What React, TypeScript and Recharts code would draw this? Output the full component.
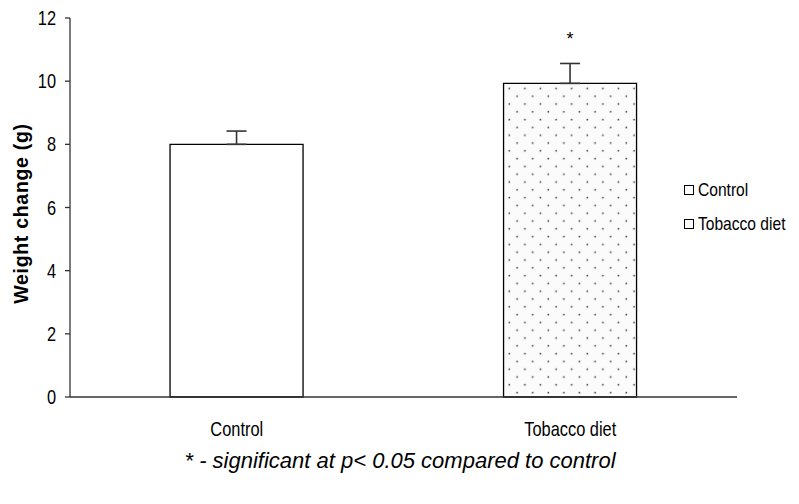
import { Bar, BarChart, Cell, ErrorBar, Label, LabelList, XAxis, YAxis } from "recharts";

// values
const groups = ["Control", "Tobacco diet"];
const weightChange = [8.0, 9.93];
const upperError = [0.42, 0.63];
const significance = ["", "*"];
const yTicks = [0, 2, 4, 6, 8, 10, 12];
const edgeTicks = [0, 1, 2];
const fills = ["#ffffff", "url(#dots)"];

const data = groups.map((name, i) => ({
  name,
  value: weightChange[i],
  err: [0, upperError[i]],
  sig: significance[i],
}));

const sans = "'Liberation Sans', Arial, sans-serif";
const axisColor = "#333333";
// no Arial Narrow here, so squeeze Liberation Sans horizontally
const squeeze = 0.82;

const XTick = ({ x, y, payload }: any) => (
  <text
    transform={`translate(${x},${y}) scale(${squeeze},1)`}
    textAnchor="middle"
    dy="0.71em"
    fontFamily={sans}
    fontSize={20}
    fill="#000"
  >
    {payload.value}
  </text>
);

const YTick = ({ x, y, payload }: any) => (
  <text
    transform={`translate(${x},${y}) scale(${squeeze},1)`}
    textAnchor="end"
    dy="0.355em"
    fontFamily={sans}
    fontSize={20}
    fill="#000"
  >
    {payload.value}
  </text>
);

export default function App() {
  return (
    <div style={{ position: "relative", width: 799, height: 504, background: "#fff", fontFamily: sans }}>
      <style>{`body{margin:0}`}</style>
      <BarChart
        width={799}
        height={504}
        data={data}
        margin={{ top: 18, right: 62, bottom: 77, left: 30 }}
        barCategoryGap="30%"
      >
        <defs>
          <pattern id="dots" patternUnits="userSpaceOnUse" width={15.6} height={15.6}>
            <rect width={15.6} height={15.6} fill="#fbfbfb" />
            <circle cx={2.3} cy={2.6} r={0.9} fill="#444" />
            <circle cx={10.1} cy={10.4} r={0.9} fill="#444" />
          </pattern>
        </defs>
        {/* boundary tick marks, like the category ticks of the original */}
        <XAxis
          xAxisId="edge"
          type="number"
          domain={[0, 2]}
          ticks={edgeTicks}
          height={0}
          axisLine={false}
          tick={false}
          tickSize={7}
          tickLine={{ stroke: axisColor, strokeWidth: 1.3 }}
        />
        <XAxis
          dataKey="name"
          height={30}
          axisLine={{ stroke: axisColor, strokeWidth: 1.3 }}
          tickLine={false}
          tickSize={0}
          tickMargin={25}
          tick={<XTick />}
        />
        <YAxis
          domain={[0, 12]}
          ticks={yTicks}
          width={40}
          tickSize={5}
          tickMargin={9}
          axisLine={{ stroke: axisColor, strokeWidth: 1.3 }}
          tickLine={{ stroke: axisColor, strokeWidth: 1.3 }}
          tick={<YTick />}
        >
          <Label
            content={({ viewBox }: any) => {
              const cy = viewBox.y + viewBox.height / 2 + 6;
              return (
                <text
                  x={21}
                  y={cy}
                  transform={`rotate(-90 21 ${cy})`}
                  textAnchor="middle"
                  dominantBaseline="central"
                  fontFamily={sans}
                  fontWeight="bold"
                  fontSize={19.5}
                  letterSpacing={0.7}
                  fill="#000"
                >
                  Weight change (g)
                </text>
              );
            }}
          />
        </YAxis>
        <Bar dataKey="value" stroke="#000" strokeWidth={1.3} isAnimationActive={false}>
          {data.map((d, i) => (
            <Cell key={d.name} fill={fills[i]} />
          ))}
          <ErrorBar dataKey="err" width={10} stroke={axisColor} strokeWidth={1.6} direction="y" />
          <LabelList
            dataKey="sig"
            position="top"
            offset={38}
            style={{ fill: "#000", fontSize: 18, fontFamily: sans }}
          />
        </Bar>
      </BarChart>

      <div style={{ position: "absolute", left: 684, top: 173, fontSize: 19, lineHeight: "34px", color: "#000" }}>
        {groups.map((g) => (
          <div key={g} style={{ display: "flex", alignItems: "center", whiteSpace: "nowrap" }}>
            <span style={{ width: 8, height: 8, border: "1px solid #000", background: "#fff", marginRight: 4 }} />
            <span style={{ display: "inline-block", transform: `scaleX(${squeeze})`, transformOrigin: "left center" }}>{g}</span>
          </div>
        ))}
      </div>

      <div
        style={{
          position: "absolute",
          left: 400,
          top: 448,
          transform: "translateX(-50%)",
          whiteSpace: "nowrap",
          fontFamily: sans,
          fontStyle: "italic",
          fontSize: 22,
          color: "#000",
        }}
      >
        * - significant at p&lt; 0.05 compared to control
      </div>
    </div>
  );
}
